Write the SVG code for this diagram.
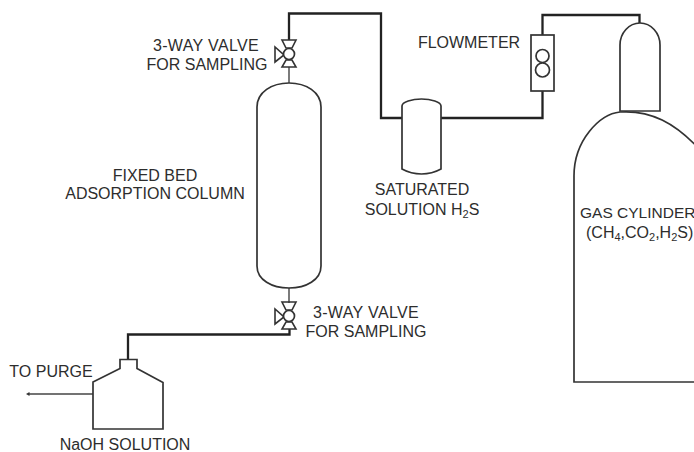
<svg xmlns="http://www.w3.org/2000/svg" width="694" height="452" viewBox="0 0 694 452">
<style>
text{font-family:"Liberation Sans",Arial,sans-serif;font-size:16px;fill:#2d2d2d}
.sub{font-size:11px}
.wide{letter-spacing:.35px}
.s{fill:#fff;stroke:#333;stroke-width:1.7}
.pipe{fill:none;stroke:#222;stroke-width:2.3}
.thin{fill:none;stroke:#444;stroke-width:1.4}
.v{fill:none;stroke:#333;stroke-width:1.6}
</style>
<defs>
<g id="valve">
<path class="v" d="M-7,-14H7L3,-6H-3Z"/>
<path class="v" d="M-7,13H7L3,6H-3Z"/>
<path class="v" d="M-14,-7V8L-5,1Z"/>
<circle class="s" r="5.500"/>
</g>
</defs>
<rect width="694" height="452" fill="#fff"/>
<g id="connectors">
<path class="pipe" d="M289,40V13.500H381V118H403"/>
<path class="pipe" d="M441,118H542.500V91"/>
<path class="pipe" d="M542.500,35V15H639.500V25"/>
<path class="pipe" d="M289.500,329V334.500H128V359"/>
<path class="thin" d="M289,67V83"/>
<path class="thin" d="M289,288V303"/>
<path class="thin" d="M93,394H28"/>
<path d="M26,394L29.500,392V396Z" fill="#333"/>
</g>
<g id="valve-top"><use href="#valve" x="289" y="54"/></g>
<g id="valve-bottom"><use href="#valve" x="289" y="316"/></g>
<g id="column">
<path class="s" d="M257,107C257,92 272,83 289,83C306,83 321,92 321,107V266C321,280 306,288 289,288C272,288 257,280 257,266Z"/>
<text x="155" y="181" text-anchor="middle">FIXED BED</text>
<text x="155" y="199" text-anchor="middle">ADSORPTION COLUMN</text>
<text class="wide" x="206" y="51" text-anchor="middle">3-WAY VALVE</text>
<text x="207" y="70" text-anchor="middle">FOR SAMPLING</text>
<text class="wide" x="366" y="318" text-anchor="middle">3-WAY VALVE</text>
<text x="366" y="337" text-anchor="middle">FOR SAMPLING</text>
</g>
<g id="saturator">
<path class="s" d="M402,106C402,102 412,99 421.500,99C431,99 441,102 441,106V169C441,169 432,174 421.500,174C411,174 402,169 402,169Z"/>
<text x="422" y="195" text-anchor="middle">SATURATED</text>
<text x="422" y="215" text-anchor="middle">SOLUTION H<tspan class="sub" dy="3">2</tspan><tspan dy="-3">S</tspan></text>
</g>
<g id="flowmeter">
<rect class="s" x="531" y="35" width="23" height="56"/>
<circle class="s" cx="542.500" cy="56" r="6.500"/>
<circle class="s" cx="542.500" cy="70" r="7"/>
<text x="469" y="48" text-anchor="middle">FLOWMETER</text>
</g>
<g id="gas-cylinder">
<path class="s" d="M620,111V45C620,33 629,23 640,23C651,23 660,33 660,45V111Z"/>
<path class="s" d="M574,382V176C574,140 600,114 620,112C650,110 675,122 702,152V382Z"/>
<text x="580" y="218" style="font-size:15.500px">GAS CYLINDER</text>
<text x="586" y="238">(CH<tspan class="sub" dy="3">4</tspan><tspan dy="-3">,CO</tspan><tspan class="sub" dy="3">2</tspan><tspan dy="-3">,H</tspan><tspan class="sub" dy="3">2</tspan><tspan dy="-3">S)</tspan></text>
</g>
<g id="naoh-bottle">
<path class="s" d="M93,429V382L120,368.500V359.500H137V368.500L163,382.500V429Z"/>
<text x="125" y="450" text-anchor="middle">NaOH SOLUTION</text>
<text x="51" y="377" text-anchor="middle">TO PURGE</text>
</g>
</svg>
